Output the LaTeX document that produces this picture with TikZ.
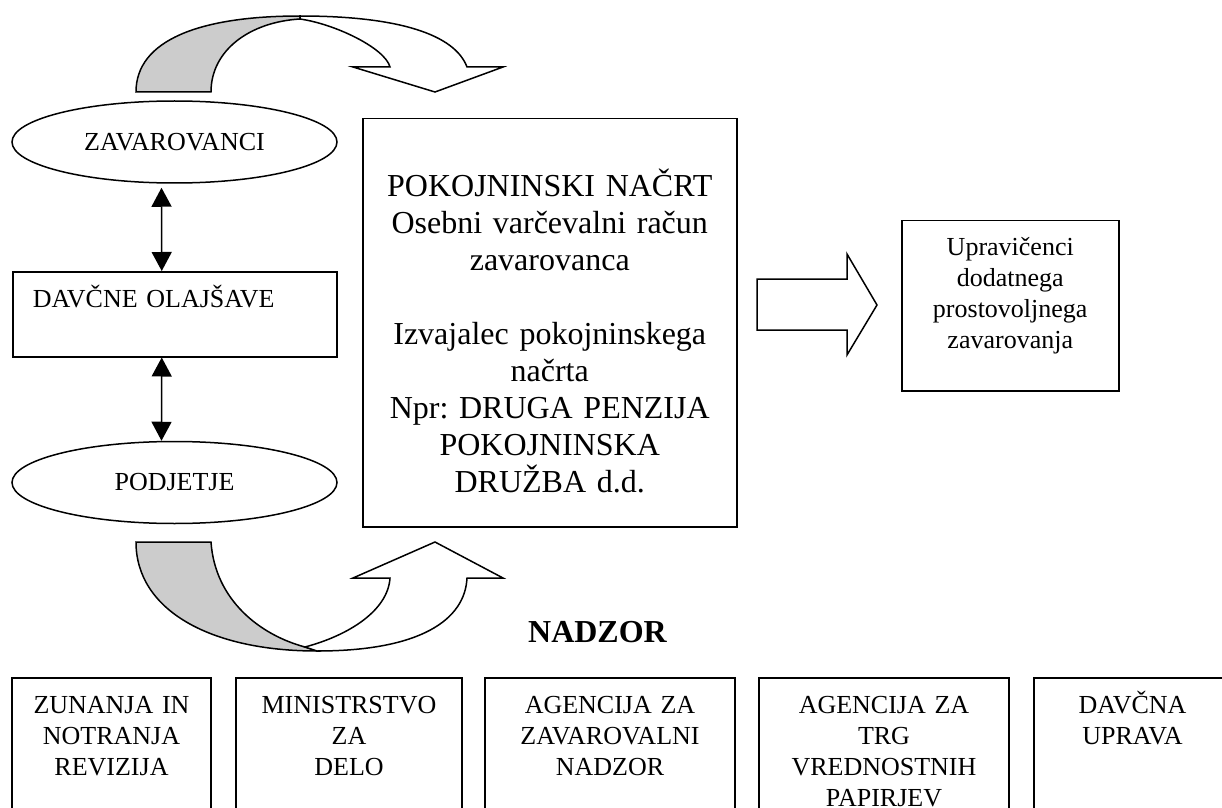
\documentclass[tikz,border=0pt]{standalone}
\usepackage{fontspec}
\setmainfont{Liberation Serif}
\usepackage{tikz}
\usetikzlibrary{arrows.meta}
\usetikzlibrary{shapes.geometric,positioning}
\frenchspacing

\begin{document}
\begin{tikzpicture}[x=0.5pt,y=-0.5pt,line width=0.75pt,
  oval/.style={draw,ellipse,minimum width=162.5pt,minimum height=41pt,inner sep=0pt,
    font=\fontsize{13}{15.5}\selectfont},
  okvir/.style={draw,inner xsep=0pt,inner ysep=0pt,align=center,
    font=\fontsize{13}{15.5}\selectfont},
  organ/.style={okvir,anchor=north,text height=18pt,text depth=80pt},
  dvojna/.style={{Triangle[length=9.5pt,width=10pt]}-{Triangle[length=9.5pt,width=10pt]}}]
\path[use as bounding box,clip] (0,0) rectangle (1222,808);
% levi stolpec
\node[oval] (zav) at (174.5,142) {ZAVAROVANCI};
\node[okvir,anchor=north west,align=left,inner xsep=10pt,text width=142pt,
  text height=18pt,text depth=24.5pt] (olaj) at (12,271) {DAVČNE OLAJŠAVE};
\node[oval] (podj) at (174.5,482.5) {PODJETJE};
\draw[dvojna,shorten <=2pt] ([xshift=-6.5pt]zav.south) -- ([xshift=-6.5pt]olaj.north);
\draw[dvojna] ([xshift=-6.5pt]olaj.south) -- ([xshift=-6.5pt]podj.north);
% pokojninski nacrt
\node[okvir,anchor=north west,text width=187pt,text height=39pt,text depth=165pt,
  font=\fontsize{16}{18.5}\selectfont] (nacrt) at (362,118)
  {POKOJNINSKI NAČRT\\ Osebni varčevalni račun\\ zavarovanca\\[18.5pt]
   Izvajalec pokojninskega\\ načrta\\ Npr: DRUGA PENZIJA\\ POKOJNINSKA\\ DRUŽBA d.d.};
\node[okvir,anchor=north west,text width=108.5pt,text height=17.5pt,text depth=67.5pt]
  (uprav) at (901,220) {Upravičenci\\ dodatnega\\ prostovoljnega\\ zavarovanja};
\draw (757,279) -- (847,279) -- (847,254) -- (877,305) -- (847,355) -- (847,330)
  -- (757,330) -- cycle;%puscica desno
% zgornja ukrivljena puscica
\draw[fill=gray!40] (136,92) .. controls (136,40) and (200,16) .. (300,16) -- (300,19)
  .. controls (250,22) and (211,50) .. (211,92) -- cycle;
\draw[fill=white] (300,16) .. controls (400,16) and (455,35) .. (467,67) -- (503,67)
  -- (435,92) -- (353,67) -- (390,67) .. controls (385,48) and (335,24) .. (300,19) -- cycle;
% spodnja ukrivljena puscica
\draw[fill=gray!40] (136,542) .. controls (136,610) and (210,651) .. (317,651) -- (305,647)
  .. controls (260,635) and (215,600) .. (211,542) -- cycle;
\draw[fill=white] (305,647) .. controls (350,635) and (388,610) .. (390,578) -- (353,578)
  -- (435,542) -- (503,578) -- (467,578) .. controls (465,620) and (420,651) .. (317,651) -- cycle;
% nadzor
\node[font=\fontsize{16}{18}\selectfont\bfseries,anchor=base] (nadzor) at (597.5,642) {NADZOR};
\foreach \x/\w/\ime/\besedilo in
  {111.5/99.5/zun/{ZUNANJA IN\\ NOTRANJA\\ REVIZIJA},
   349/113/min/{MINISTRSTVO\\ ZA\\ DELO},
   610/125/azn/{AGENCIJA ZA\\ ZAVAROVALNI\\ NADZOR},
   884/125/atvp/{AGENCIJA ZA\\ TRG\\ VREDNOSTNIH\\ PAPIRJEV},
   1132.5/98.5/durs/{DAVČNA\\ UPRAVA}}
  \node[organ,text width=\w pt] (\ime) at (\x,677) {\besedilo};
\end{tikzpicture}
\end{document}
